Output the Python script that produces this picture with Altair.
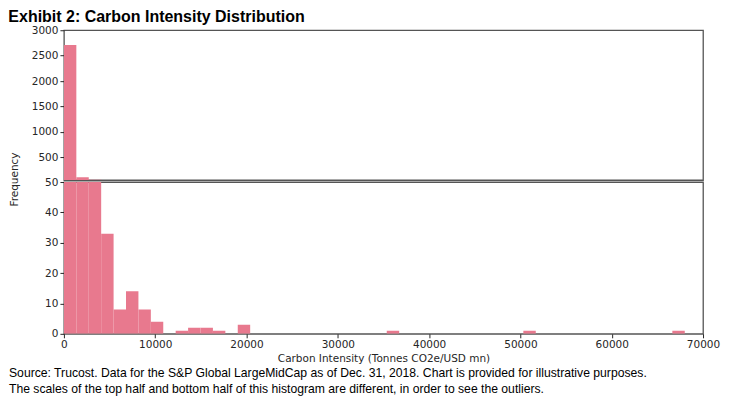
import altair as alt
import pandas as pd

# Histogram data (bin width: ~1360 Tonnes CO2e/USD mn, 50 bins)
bin_width = 1360
counts = [2710, 105, 55, 33, 8, 14, 8, 4, 0, 1,
          2, 2, 1, 0, 3, 0, 0, 0, 0, 0,
          0, 0, 0, 0, 0, 0, 1, 0, 0, 0,
          0, 0, 0, 0, 0, 0, 0, 1, 0, 0,
          0, 0, 0, 0, 0, 0, 0, 0, 0, 1]
x_ticks = [0, 10000, 20000, 30000, 40000, 50000, 60000, 70000]
top_ticks = [500, 1000, 1500, 2000, 2500, 3000]
bottom_ticks = [0, 10, 20, 30, 40, 50]
title_text = "Exhibit 2: Carbon Intensity Distribution"
x_title = "Carbon Intensity (Tonnes CO2e/USD mn)"
y_title = "Frequency"
footnote = [
    "Source: Trucost. Data for the S&P Global LargeMidCap as of Dec. 31, 2018. Chart is provided for illustrative purposes.",
    "The scales of the top half and bottom half of this histogram are different, in order to see the outliers.",
]

df = pd.DataFrame({
    "start": [i * bin_width for i in range(len(counts))],
    "end": [(i + 1) * bin_width for i in range(len(counts))],
    "count": counts,
})
df_top = df[df["count"] > 50]
df_bot = df[df["count"] > 0]

BAR = "#E8798E"
TXT = "#262626"
x_scale = alt.Scale(domain=[0, 70000], nice=False, zero=False)

top = alt.Chart(df_top).mark_bar(color=BAR, clip=True).encode(
    x=alt.X("start:Q", scale=x_scale, axis=None),
    x2="end:Q",
    y=alt.Y("count:Q", scale=alt.Scale(domain=[50, 3000], nice=False, zero=False),
            axis=alt.Axis(values=top_ticks, format="d", grid=False, domain=False, title=None)),
    y2=alt.datum(50),
).properties(width=640, height=150)

bottom = alt.Chart(df_bot).mark_bar(color=BAR, clip=True).encode(
    x=alt.X("start:Q", scale=x_scale,
            axis=alt.Axis(values=x_ticks, format="d", grid=False, domain=False, title=x_title,
                          labelFlush=False, titlePadding=3)),
    x2="end:Q",
    y=alt.Y("count:Q", scale=alt.Scale(domain=[0, 50], nice=False),
            axis=alt.Axis(values=bottom_ticks, format="d", grid=False, domain=False, title=y_title,
                          titleX=-44, titleY=-3)),
    y2=alt.datum(0),
).properties(
    width=640, height=152,
    title=alt.TitleParams(
        text=footnote, orient="bottom", anchor="start", frame="group", dx=-55,
        font="Liberation Sans", fontSize=12.2, fontWeight="normal",
        color="#000000", lineHeight=16, offset=3,
    ),
)

chart = alt.vconcat(top, bottom, spacing=2, bounds="flush").properties(
    title=alt.TitleParams(
        text=title_text, anchor="start", frame="bounds", font="Liberation Sans",
        fontSize=16, fontWeight="bold", color="#000000", offset=0,
    ),
    padding={"left": 0, "top": 0, "right": 0, "bottom": 0},
).configure_view(
    stroke="#555555", strokeWidth=1.3,
).configure_axis(
    labelFont="DejaVu Sans", labelFontSize=10.5, labelColor=TXT,
    titleFont="DejaVu Sans", titleFontSize=10.5, titleFontWeight="normal", titleColor=TXT,
    tickColor=TXT, tickSize=4, labelPadding=2,
)

chart.save("out.html", embed_options={"renderer": "svg", "actions": False})
